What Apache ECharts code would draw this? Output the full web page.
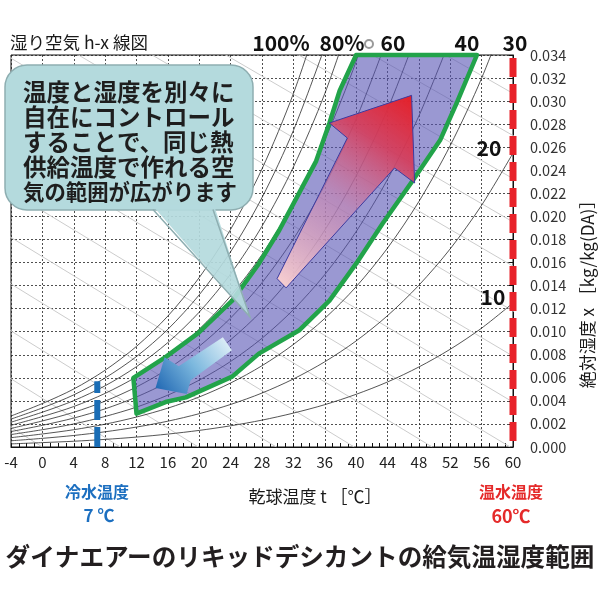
<!DOCTYPE html>
<html>
<head>
<meta charset="utf-8">
<script src="https://cdn.jsdelivr.net/npm/echarts@6/dist/echarts.min.js"></script>
<style>
html,body{margin:0;padding:0;background:#fff;}
#chart{width:600px;height:600px;}
</style>
</head>
<body>
<div id="chart"></div>
<script>
// dry bulb temperatures of the curve points [°C]
var temps = [-4, 0, 4, 8, 12, 16, 20, 24, 28, 32, 36, 40, 44, 48, 52, 56, 60];
// absolute humidity along each relative humidity curve [kg/kg(DA)]
var rh100 = [0.00269, 0.00377, 0.00503, 0.00666, 0.00873, 0.01136, 0.01470, 0.01888, 0.02412, 0.03065, 0.03878];
var rh90  = [0.00242, 0.00339, 0.00452, 0.00599, 0.00785, 0.01021, 0.01320, 0.01694, 0.02163, 0.02745, 0.03469];
var rh80  = [0.00215, 0.00302, 0.00402, 0.00531, 0.00697, 0.00906, 0.01170, 0.01501, 0.01915, 0.02428, 0.03064, 0.03851];
var rh70  = [0.00188, 0.00264, 0.00351, 0.00465, 0.00609, 0.00791, 0.01022, 0.01310, 0.01669, 0.02115, 0.02665, 0.03344, 0.04179];
var rh60  = [0.00161, 0.00226, 0.00301, 0.00398, 0.00521, 0.00677, 0.00874, 0.01119, 0.01425, 0.01804, 0.02270, 0.02844, 0.03548];
var rh50  = [0.00134, 0.00188, 0.00251, 0.00331, 0.00434, 0.00563, 0.00726, 0.00930, 0.01183, 0.01496, 0.01881, 0.02352, 0.02928, 0.03631];
var rh40  = [0.00108, 0.00150, 0.00200, 0.00265, 0.00346, 0.00450, 0.00580, 0.00742, 0.00943, 0.01191, 0.01495, 0.01868, 0.02321, 0.02871, 0.03537];
var rh30  = [0.00081, 0.00113, 0.00150, 0.00198, 0.00260, 0.00337, 0.00434, 0.00555, 0.00705, 0.00889, 0.01115, 0.01390, 0.01725, 0.02129, 0.02615, 0.03199, 0.03904];
var rh20  = [0.00054, 0.00075, 0.00100, 0.00132, 0.00173, 0.00224, 0.00289, 0.00369, 0.00468, 0.00590, 0.00739, 0.00920, 0.01139, 0.01403, 0.01719, 0.02097, 0.02549];
var rh10  = [0.00027, 0.00038, 0.00050, 0.00066, 0.00086, 0.00112, 0.00144, 0.00184, 0.00233, 0.00294, 0.00367, 0.00457, 0.00564, 0.00694, 0.00848, 0.01031, 0.01249];
var rhCurves = [rh100, rh90, rh80, rh70, rh60, rh50, rh40, rh30, rh20, rh10];

// enthalpy lines: temperature where each meets x=0 and x=0.034
var enthalpyTAtZero = [0, 9.94, 19.88, 29.82, 39.76, 49.70, 59.64, 69.58, 79.52, 89.46, 99.40, 109.34, 119.28, 129.22, 139.16, 149.1];
var enthalpyTAtTop  = [-79.5, -70.2, -60.8, -51.5, -42.1, -32.8, -23.4, -14.1, -4.7, 4.6, 14.0, 23.4, 32.7, 42.1, 51.4, 60.8];

// supply air range (outline)
var regionT = [11.6, 15.7, 19.9, 24.2, 27.6, 30.2, 33.1, 34.9, 36.6, 37.9, 40.0, 55.4, 52.8, 50.7, 47.2, 43.4, 40.0, 36.6, 32.7, 27.6, 24.2, 18.3, 15.7, 12.0];
var regionX = [0.0060, 0.0078, 0.0099, 0.0127, 0.0159, 0.0188, 0.0225, 0.0248, 0.0281, 0.0309, 0.0340, 0.0340, 0.0298, 0.0266, 0.0231, 0.0194, 0.0159, 0.0127, 0.0101, 0.0081, 0.0061, 0.0043, 0.0039, 0.0029];

// arrows
var redArrowT = [47.07, 47.46, 44.9, 31.07, 29.92, 38.88, 36.58];
var redArrowX = [0.0305, 0.0229, 0.0242, 0.0138, 0.0146, 0.0268, 0.0281];
var blueArrowT = [14.43, 18.4, 18.91, 24.16, 23.01, 17.38, 15.58];
var blueArrowX = [0.00511, 0.00459, 0.0058, 0.0084, 0.00952, 0.00701, 0.00779];

var hotWaterTemp = 60;
var coldWaterTemp = 7;
var coldLineTop = 0.0057;

var FONT = "'Noto Sans CJK JP','Noto Sans',sans-serif";

function polySeries(ts, xs, style, z) {
  return {
    type: 'custom',
    coordinateSystem: 'cartesian2d',
    silent: true,
    z: z,
    data: ts.map(function (t, i) { return [t, xs[i]]; }),
    renderItem: function (params, api) {
      if (params.dataIndex !== 0) return null;
      var pts = ts.map(function (t, i) { return api.coord([t, xs[i]]); });
      return { type: 'polygon', shape: { points: pts }, style: style };
    }
  };
}

function txt(text, x, y, size, opt) {
  opt = opt || {};
  return {
    type: 'text', x: x, y: y, z: 60, rotation: opt.rotation || 0,
    style: {
      text: text, fontSize: size, fontFamily: FONT,
      fontWeight: opt.weight || 'normal', fill: opt.color || '#1a1a1a',
      align: opt.align || 'center', verticalAlign: 'middle',
      textAlign: opt.align || 'center', textVerticalAlign: 'middle'
    }
  };
}

var series = [];
enthalpyTAtZero.forEach(function (t0, i) {
  series.push({
    type: 'line', symbol: 'none', silent: true, z: 1,
    data: [[t0, 0], [enthalpyTAtTop[i], 0.034]],
    lineStyle: { color: '#cccccc', width: 1 }
  });
});
rhCurves.forEach(function (arr) {
  series.push({
    type: 'line', symbol: 'none', silent: true, z: 2,
    smooth: 0.3,
    data: arr.map(function (v, i) { return [temps[i], v]; }),
    lineStyle: { color: '#2a2a2a', width: 0.8 }
  });
});
series.push(polySeries(regionT, regionX, {
  fill: 'rgba(87,83,180,0.6)', stroke: '#22a34a', lineWidth: 4.5, lineJoin: 'round'
}, 5));
series.push(polySeries(redArrowT, redArrowX, {
  fill: new echarts.graphic.LinearGradient(0, 1, 1, 0, [
    { offset: 0, color: 'rgba(252,212,210,1)' },
    { offset: 0.45, color: 'rgba(200,130,175,0.6)' },
    { offset: 0.75, color: 'rgba(214,60,90,0.9)' },
    { offset: 1, color: '#e61e25' }
  ]),
  stroke: '#3b3ba0', lineWidth: 1
}, 6));
series.push(polySeries(blueArrowT, blueArrowX, {
  fill: new echarts.graphic.LinearGradient(1, 0, 0, 1, [
    { offset: 0, color: '#eaf5fa' },
    { offset: 0.5, color: '#7cb8de' },
    { offset: 1, color: '#1a62b0' }
  ])
}, 6));
series.push({
  type: 'line', symbol: 'none', silent: true, clip: false, z: 10,
  data: [[hotWaterTemp, 0.034], [hotWaterTemp, 0]],
  lineStyle: { color: '#e8232a', width: 7, type: [19, 7], dashOffset: 23 }
});
series.push({
  type: 'line', symbol: 'none', silent: true, clip: false, z: 10,
  data: [[coldWaterTemp, 0], [coldWaterTemp, coldLineTop]],
  lineStyle: { color: '#1a6db5', width: 6, type: [20, 7] }
});

var bubbleLines = ['温度と湿度を別々に', '自在にコントロール', 'することで、同じ熱', '供給温度で作れる空', '気の範囲が広がります'];
var graphics = [
  txt('湿り空気 h-x 線図', 10, 42, 17.5, { align: 'left' }),
  txt('100%', 281, 43, 21, { weight: 'bold', color: '#111' }),
  txt('80%', 342, 43, 21, { weight: 'bold', color: '#111' }),
  { type: 'circle', shape: { cx: 369, cy: 44, r: 4 }, z: 60, style: { fill: 'none', stroke: '#9a9a9a', lineWidth: 2 } },
  txt('60', 393, 43, 21, { weight: 'bold', color: '#111' }),
  txt('40', 467, 43, 21, { weight: 'bold', color: '#111' }),
  txt('30', 515, 43, 21, { weight: 'bold', color: '#111' }),
  txt('20', 489, 148, 21, { weight: 'bold', color: '#111' }),
  txt('10', 493, 297, 21, { weight: 'bold', color: '#111' }),
  txt('乾球温度 t ［℃］', 315, 497, 17),
  txt('絶対湿度 x ［kg/kg(DA)］', 588, 290, 17, { rotation: Math.PI / 2 }),
  txt('冷水温度', 97, 492, 16, { weight: 'bold', color: '#1c6fc0' }),
  txt('7 ℃', 99, 516, 17, { weight: 'bold', color: '#1c6fc0' }),
  txt('温水温度', 511, 492, 16, { weight: 'bold', color: '#e52a2a' }),
  txt('60℃', 511, 516, 18, { weight: 'bold', color: '#e52a2a' }),
  txt('ダイナエアーのリキッドデシカントの給気温湿度範囲', 300, 557, 24.6, { weight: 'bold', color: '#231f20' }),
  { type: 'rect', z: 50, shape: { x: 5, y: 65, width: 248, height: 145, r: 22 },
    style: { fill: '#b4dadd', stroke: '#8eaeb1', lineWidth: 1.5 } },
  { type: 'polygon', z: 51, shape: { points: [[152, 205], [214, 205], [250, 317]] },
    style: { fill: 'rgba(180,218,221,0.92)' } },
  { type: 'polyline', z: 52, shape: { points: [[153, 209.5], [250, 317], [213, 209.5]] },
    style: { stroke: '#8eaeb1', lineWidth: 1.5, fill: null } }
];
bubbleLines.forEach(function (line, i) {
  var size = line.length > 9 ? 21.4 : 23.5;
  graphics.push(txt(line, 23, 92 + i * 25, size, { align: 'left', weight: 'bold', color: '#1e1e1e' }));
});

var myChart = echarts.init(document.getElementById('chart'));
var option = {
  animation: false,
  textStyle: { fontFamily: FONT },
  grid: { left: 11, right: 87, top: 55, bottom: 153, show: true, borderColor: '#111', borderWidth: 1 },
  xAxis: {
    type: 'value', min: -4, max: 60, interval: 4,
    axisLine: { show: true, onZero: false, lineStyle: { color: '#111' } },
    axisTick: { show: true, inside: true, length: 4, lineStyle: { color: '#111' } },
    minorTick: { show: true, splitNumber: 4, length: 4, lineStyle: { color: '#111' } },
    splitLine: { show: true, lineStyle: { color: '#222', type: [2, 2], width: 0.8 } },
    axisLabel: { fontSize: 15, color: '#222', margin: 8, fontFamily: FONT }
  },
  yAxis: {
    type: 'value', position: 'right', min: 0, max: 0.034, interval: 0.002,
    axisLine: { show: true, onZero: false, lineStyle: { color: '#111' } },
    axisTick: { show: true, inside: true, length: 4, lineStyle: { color: '#111' } },
    splitLine: { show: true, lineStyle: { color: '#222', type: [2, 2], width: 0.8 } },
    axisLabel: { fontSize: 14.5, color: '#333', margin: 17, fontFamily: FONT,
      formatter: function (v) { return v.toFixed(3); } }
  },
  graphic: graphics,
  series: series
};
myChart.setOption(option);
</script>
</body>
</html>
